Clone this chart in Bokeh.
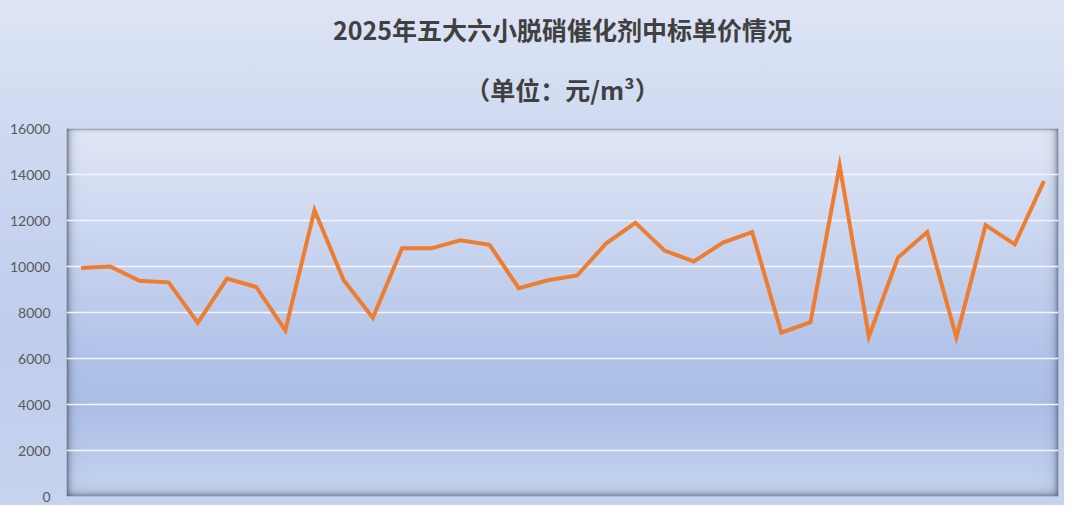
import numpy as np
from bokeh.plotting import figure
from bokeh.models import Range1d, FixedTicker, Title
from bokeh.embed import file_html
from bokeh.resources import INLINE

# ---------------- data ----------------
title_text = "2025年五大六小脱硝催化剂中标单价情况"
subtitle_text = "（单位：元/m³）"
y_ticks = [0, 2000, 4000, 6000, 8000, 10000, 12000, 14000, 16000]
unit_prices = [9930, 10000, 9380, 9310, 7550, 9470, 9110, 7220, 12450, 9400,
               7770, 10790, 10790, 11140, 10940, 9060, 9400, 9610, 11010, 11900,
               10690, 10220, 11040, 11500, 7120, 7580, 14390, 6950, 10390, 11500,
               6910, 11800, 10960, 13710]
item_index = list(range(len(unit_prices)))

# ---------------- layout ----------------
W, H = 1064, 505
ML, MT, MB = 66, 128, 9
FW = 992
FH = H - MT - MB
MR = W - ML - FW

p = figure(width=W, height=H, output_backend="svg", toolbar_location=None,
           x_range=Range1d(-0.5, len(unit_prices) - 0.5), y_range=Range1d(0, 16000),
           x_axis_location=None, min_border_left=ML, min_border_right=MR,
           min_border_bottom=MB, min_border_top=MT, title=None)
p.border_fill_color = None
p.background_fill_color = None
p.outline_line_color = None
p.styles = {"background": "linear-gradient(to bottom, #dde5f5 0%, #cdd8f0 30%, #bfcdec 65%, #c5d3ee 100%)"}

# plot-area background: vertical gradient with inner shadow (decoration)
rows = np.arange(FH) / (FH - 1)
stops = [0.0, 0.25, 0.5, 0.62, 0.75, 0.87, 0.95, 1.0]
cols = np.array([[224, 231, 246], [206, 217, 241], [188, 203, 236], [176, 195, 233],
                 [171, 190, 230], [183, 200, 235], [192, 208, 238], [195, 210, 238]], float)
base = np.stack([np.interp(rows, stops, cols[:, c]) for c in range(3)], axis=1)
img = np.repeat(base[:, None, :], FW, axis=1)
dx = np.arange(FW)[None, :]
dy = np.arange(FH)[:, None]
s_left = 0.75 * np.exp(-dx / 3.0)
s_right = 0.7 * np.exp(-(FW - 1 - dx) / 3.0)
s_bottom = 0.6 * np.exp(-(FH - 1 - dy) / 3.5)
s_top = 0.55 * np.exp(-dy / 1.3)
keep = (1 - s_left) * (1 - s_right) * (1 - s_bottom) * (1 - s_top)
shade = np.array([78, 86, 104], float)
img = img * keep[:, :, None] + shade[None, None, :] * (1 - keep[:, :, None])
rgba = np.zeros((FH, FW, 4), dtype=np.uint8)
rgba[:, :, :3] = np.clip(img, 0, 255).astype(np.uint8)
rgba[:, :, 3] = 255
rgba = np.flipud(rgba).copy()
p.image_rgba(image=[rgba.view(np.uint32).reshape(FH, FW)], x=-0.5, y=0,
             dw=len(unit_prices), dh=16000, level="image")

# grid and axis
p.xgrid.grid_line_color = None
p.ygrid.grid_line_color = "#f3f5fa"
p.ygrid.grid_line_width = 1.5
p.yaxis.ticker = FixedTicker(ticks=y_ticks)
p.yaxis.axis_line_color = None
p.yaxis.major_tick_line_color = None
p.yaxis.minor_tick_line_color = None
p.yaxis.major_label_text_color = "#595959"
p.yaxis.major_label_text_font = "Lato"
p.yaxis.major_label_text_font_size = "14px"
p.yaxis.major_label_standoff = 10

# series
p.line(item_index, unit_prices, line_color="#ED7D31", line_width=4, line_join="miter")

# titles (first added sits nearest to the plot area)
p.add_layout(Title(text=subtitle_text, align="center", text_font="Noto Sans CJK SC",
                   text_font_size="25px", text_font_style="bold", text_color="#404040",
                   standoff=44), "above")
p.add_layout(Title(text=title_text, align="center", text_font="Noto Sans CJK SC",
                   text_font_size="25px", text_font_style="bold", text_color="#404040",
                   standoff=0), "above")

open("out.html", "w").write(file_html(p, INLINE))
